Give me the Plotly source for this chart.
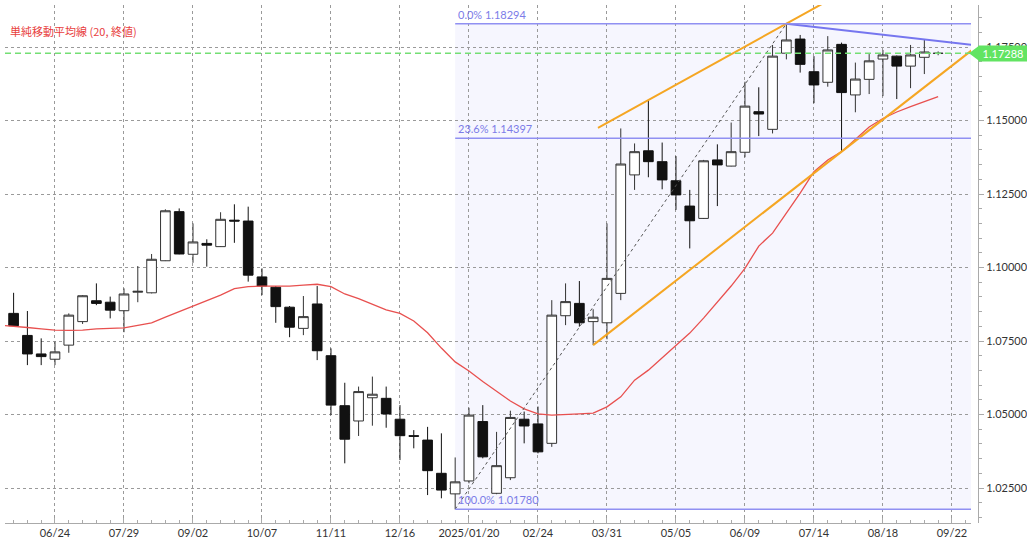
import pandas as pd
import plotly.graph_objects as go

# ---------------- data (weekly EUR/USD) ----------------
start_week = "2024-06-03"
open_ = [1.0844, 1.0769, 1.0706, 1.0688, 1.0736, 1.0816, 1.0887, 1.0882, 1.0853, 1.0916,
         1.0914, 1.1023, 1.1190, 1.1045, 1.1082, 1.1071, 1.1161, 1.1158, 1.0968, 1.0933,
         1.0865, 1.0793, 1.0876, 1.0700, 1.0530, 1.0478, 1.0557, 1.0555, 1.0484, 1.0428,
         1.0413, 1.0300, 1.0230, 1.0274, 1.0476, 1.0232, 1.0285, 1.0484, 1.0468, 1.0402,
         1.0836, 1.0878, 1.0816, 1.0812, 1.0912, 1.1315, 1.1397, 1.1360, 1.1295, 1.1209,
         1.1167, 1.1366, 1.1345, 1.1392, 1.1530, 1.1470, 1.1729, 1.1777, 1.1666, 1.1630,
         1.1759, 1.1587, 1.1640, 1.1709, 1.1719, 1.1685, 1.1715, 1.1728]
high = [1.0914, 1.0852, 1.0759, 1.0748, 1.0844, 1.0906, 1.0946, 1.0901, 1.0929, 1.1005,
        1.1046, 1.1198, 1.1201, 1.1150, 1.1096, 1.1188, 1.1215, 1.1207, 1.0997, 1.0937,
        1.0869, 1.0903, 1.0937, 1.0725, 1.0608, 1.0595, 1.0629, 1.0595, 1.0532, 1.0447,
        1.0458, 1.0436, 1.0354, 1.0523, 1.0532, 1.0441, 1.0513, 1.0510, 1.0527, 1.0889,
        1.0946, 1.0954, 1.0858, 1.1150, 1.1473, 1.1422, 1.1570, 1.1425, 1.1379, 1.1264,
        1.1366, 1.1419, 1.1493, 1.1632, 1.1613, 1.1757, 1.18294, 1.1791, 1.1719, 1.1787,
        1.1765, 1.1697, 1.1726, 1.1740, 1.1721, 1.1757, 1.1776, 1.1735]
low = [1.0800, 1.0668, 1.0668, 1.0668, 1.0710, 1.0808, 1.0872, 1.0827, 1.0780, 1.0882,
       1.0912, 1.1022, 1.1045, 1.1016, 1.1003, 1.1070, 1.1084, 1.0952, 1.0906, 1.0812,
       1.0763, 1.0770, 1.0685, 1.0498, 1.0334, 1.0427, 1.0462, 1.0455, 1.0345, 1.0385,
       1.0226, 1.0215, 1.0178, 1.0266, 1.0351, 1.0229, 1.0277, 1.0402, 1.0368, 1.0390,
       1.0804, 1.0799, 1.0736, 1.0756, 1.0889, 1.1264, 1.1307, 1.1266, 1.1196, 1.1065,
       1.1165, 1.1209, 1.1344, 1.1375, 1.1447, 1.1456, 1.1708, 1.1663, 1.1559, 1.1615,
       1.1394, 1.1528, 1.1590, 1.1583, 1.1573, 1.1610, 1.1658, 1.1722]
close = [1.0802, 1.0706, 1.0697, 1.0713, 1.0838, 1.0904, 1.0878, 1.0855, 1.0910, 1.0919,
         1.1028, 1.1193, 1.1046, 1.1087, 1.1076, 1.1164, 1.1158, 1.0974, 1.0937, 1.0867,
         1.0797, 1.0833, 1.0717, 1.0532, 1.0416, 1.0578, 1.0569, 1.0502, 1.0428, 1.0426,
         1.0309, 1.0243, 1.0271, 1.0498, 1.0356, 1.0326, 1.0490, 1.0461, 1.0373, 1.0838,
         1.0884, 1.0812, 1.0831, 1.0963, 1.1352, 1.1394, 1.1360, 1.1298, 1.1247, 1.1159,
         1.1363, 1.1349, 1.1394, 1.1549, 1.1522, 1.1719, 1.1774, 1.1691, 1.1621, 1.1740,
         1.1595, 1.1641, 1.1703, 1.1723, 1.1685, 1.1723, 1.1733, 1.17288]

# 20-week simple moving average of close (starts one week earlier)
ma_start = "2024-05-27"
ma20 = [1.0804, 1.0801, 1.0796, 1.0791, 1.0787, 1.0786, 1.0787, 1.0791, 1.0793, 1.0795,
        1.0803, 1.0812, 1.0831, 1.0850, 1.0867, 1.0886, 1.0906, 1.0928, 1.0935, 1.0937,
        1.0937, 1.0937, 1.0940, 1.0943, 1.0935, 1.0910, 1.0894, 1.0876, 1.0856, 1.0844,
        1.0818, 1.0778, 1.0726, 1.0679, 1.0648, 1.0612, 1.0579, 1.0546, 1.0519, 1.0502,
        1.0498, 1.0499, 1.0502, 1.0505, 1.0526, 1.0560, 1.0617, 1.0651, 1.0692, 1.0733,
        1.0777, 1.0828, 1.0883, 1.0937, 1.0997, 1.1073, 1.1117, 1.1185, 1.1253, 1.1326,
        1.1366, 1.1394, 1.1437, 1.1478, 1.1507, 1.1529, 1.1547, 1.1565, 1.1581]

tick_dates = ["2024-06-24", "2024-07-29", "2024-09-02", "2024-10-07", "2024-11-11",
              "2024-12-16", "2025-01-20", "2025-02-24", "2025-03-31", "2025-05-05",
              "2025-06-09", "2025-07-14", "2025-08-18", "2025-09-22"]
tick_text = ["06/24", "07/29", "09/02", "10/07", "11/11", "12/16", "2025/01/20",
             "02/24", "03/31", "05/05", "06/09", "07/14", "08/18", "09/22"]
y_ticks = [1.025, 1.05, 1.075, 1.10, 1.125, 1.15, 1.175]

# Fibonacci retracement (low week 32 -> high week 56)
fib_low_idx, fib_high_idx = 32, 56
fib_levels = [(0.0, "0.0%"), (0.236, "23.6%"), (1.0, "100.0%")]

ma_label = "単純移動平均線 (20, 終値)"

# ---------------- helpers ----------------
dates = pd.date_range(start_week, periods=len(close), freq="7D")
ma_dates = pd.date_range(ma_start, periods=len(ma20), freq="7D")


def wk(t):
    """fractional week index -> timestamp"""
    return dates[0] + pd.Timedelta(days=7 * t)


def line_through(i0, v0, i1, v1, t_from, t_to):
    s = (v1 - v0) / (i1 - i0)
    return [wk(t_from), wk(t_to)], [v0 + s * (t_from - i0), v0 + s * (t_to - i0)]


FONT = "Lato, 'Noto Sans', sans-serif"
fig = go.Figure()

# candles
fig.add_trace(go.Candlestick(
    x=dates, open=open_, high=high, low=low, close=close,
    increasing=dict(fillcolor="#ffffff", line=dict(color="#333333", width=1)),
    decreasing=dict(fillcolor="#111111", line=dict(color="#111111", width=1)),
    whiskerwidth=0, showlegend=False, hoverinfo="skip"))

# moving average
fig.add_trace(go.Scatter(x=ma_dates, y=ma20, mode="lines",
                         line=dict(color="#e8504f", width=1.3),
                         showlegend=False, hoverinfo="skip"))

# fib diagonal (dotted)
fig.add_trace(go.Scatter(x=[dates[fib_low_idx], dates[fib_high_idx]],
                         y=[low[fib_low_idx], high[fib_high_idx]], mode="lines",
                         line=dict(color="#555555", width=1, dash="dot"),
                         showlegend=False, hoverinfo="skip"))

# upper orange channel line (through highs of weeks 46 & 56)
xs, ys = line_through(46, high[46], 56, high[56], 42.35, 61)
fig.add_trace(go.Scatter(x=xs, y=ys, mode="lines", line=dict(color="#f5a623", width=2),
                         showlegend=False, hoverinfo="skip"))
# lower orange channel line (through lows of weeks 42 & 60)
xs, ys = line_through(42, low[42], 60, low[60], 42, 71)
fig.add_trace(go.Scatter(x=xs, y=ys, mode="lines", line=dict(color="#f5a623", width=2),
                         showlegend=False, hoverinfo="skip"))
# blue resistance line (through highs of weeks 56 & 66)
xs, ys = line_through(56, high[56], 66, high[66], 56, 71)
fig.add_trace(go.Scatter(x=xs, y=ys, mode="lines", line=dict(color="#7676ef", width=2),
                         showlegend=False, hoverinfo="skip"))

fib_hi = high[fib_high_idx]
fib_lo = low[fib_low_idx]
shapes = [dict(type="rect", xref="x", yref="y", x0=dates[fib_low_idx], x1=wk(72),
               y0=fib_lo, y1=fib_hi, fillcolor="rgba(110,110,235,0.06)",
               line=dict(width=0), layer="below")]
annotations = []
for r, name in fib_levels:
    lvl = fib_hi - r * (fib_hi - fib_lo)
    shapes.append(dict(type="line", xref="x", yref="y", x0=dates[fib_low_idx], x1=wk(72),
                       y0=lvl, y1=lvl, line=dict(color="#9090f2", width=1.5), layer="above"))
    annotations.append(dict(x=dates[fib_low_idx], y=lvl, xref="x", yref="y",
                            text=f"{name} {lvl:.5f}", showarrow=False,
                            xanchor="left", yanchor="bottom", xshift=1, yshift=1,
                            font=dict(family=FONT, size=11, color="#7c7ce8")))

last = close[-1]
shapes.append(dict(type="line", xref="x domain", yref="y", x0=0, x1=1, y0=last, y1=last,
                   line=dict(color="#74df74", width=1.3, dash="6px,4px"), layer="above"))
shapes.append(dict(type="path", xref="paper", yref="y", xsizemode="pixel", ysizemode="pixel",
                   xanchor=1, yanchor=last, path="M -9,0 L 1,7.5 L 1,-7.5 Z",
                   fillcolor="#62e462", line=dict(width=0)))
annotations.append(dict(x=1, y=last, xref="paper", yref="y", text=f"{last:.5f}",
                        showarrow=False, xanchor="left", yanchor="middle",
                        bgcolor="#62e462", width=46, height=13, borderpad=1,
                        font=dict(family=FONT, size=11, color="#ffffff")))
annotations.append(dict(x=0.003, y=0.95, xref="paper", yref="paper", text=ma_label,
                        showarrow=False, xanchor="left", yanchor="middle",
                        font=dict(family="'Noto Sans CJK JP', sans-serif", size=11,
                                  color="#e84040")))

fig.update_layout(
    width=1027, height=544,
    margin=dict(l=5, r=49, t=5, b=21, autoexpand=False),
    plot_bgcolor="#ffffff", paper_bgcolor="#ffffff",
    boxgap=0.3, boxgroupgap=0.0,
    shapes=shapes, annotations=annotations,
    showlegend=False,
    xaxis=dict(type="date", range=[wk(-0.623), wk(69.38)], domain=[0, 0.9928],
               tickvals=tick_dates, ticktext=tick_text, automargin=False,
               showgrid=True, gridcolor="#9a9a9a", griddash="dot", gridwidth=1,
               showline=True, linecolor="#aaaaaa", linewidth=1,
               ticks="inside", ticklen=5, tickcolor="#aaaaaa",
               minor=dict(ticks="inside", ticklen=3, tickcolor="#aaaaaa",
                          dtick=7 * 86400000, tick0=start_week, showgrid=False),
               tickfont=dict(family=FONT, size=11, color="#333333"),
               rangeslider=dict(visible=False), zeroline=False, fixedrange=True),
    yaxis=dict(side="right", anchor="free", position=1, automargin=False,
               range=[1.0131, 1.18929],
               tickvals=y_ticks, ticktext=[f"{v:.5f}" for v in y_ticks],
               showgrid=True, gridcolor="#9a9a9a", griddash="dot", gridwidth=1,
               showline=True, linecolor="#aaaaaa", linewidth=1,
               ticks="outside", ticklen=5, tickcolor="#aaaaaa",
               minor=dict(ticks="outside", ticklen=3, tickcolor="#aaaaaa",
                          dtick=0.005, showgrid=False),
               tickfont=dict(family=FONT, size=11, color="#333333"),
               zeroline=False, fixedrange=True),
)

fig.write_html("out.html", config={"displayModeBar": False},
               post_script="document.body.style.margin='0px';document.body.style.padding='0px';")
